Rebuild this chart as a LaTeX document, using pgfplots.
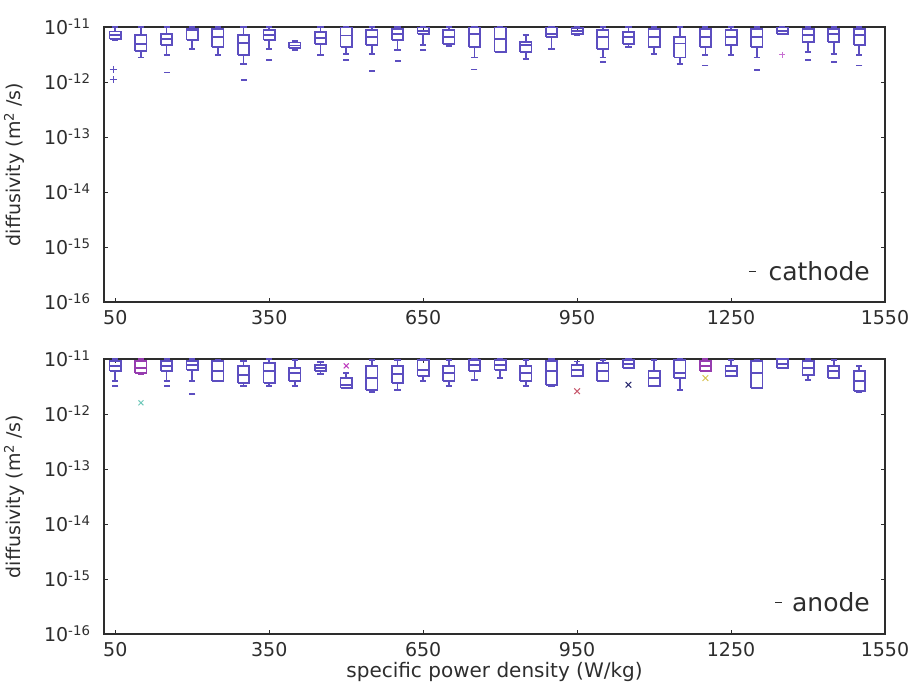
\documentclass[border=0pt]{standalone}
\usepackage{fontspec}
\setmainfont{DejaVu Sans}
\usepackage{pgfplots}
\pgfplotsset{compat=1.18}
\definecolor{boxcol}{RGB}{92,78,192}
\definecolor{boxmag}{RGB}{150,60,175}
\definecolor{axcol}{RGB}{45,45,45}
\definecolor{ocyan}{RGB}{110,200,185}
\definecolor{omag}{RGB}{190,60,190}
\definecolor{ored}{RGB}{200,90,110}
\definecolor{onavy}{RGB}{40,40,110}
\definecolor{oyel}{RGB}{215,195,80}
\definecolor{opink}{RGB}{200,110,210}
% #1 colour, #2 position, #3 lower whisker, #4 lower quartile, #5 median, #6 upper quartile, #7 upper whisker (units 1e-12)
\newcommand{\bx}[7][boxcol]{%
  \pgfmathsetmacro\bxL{#2-11}\pgfmathsetmacro\bxR{#2+11}%
  \pgfmathsetmacro\bcL{#2-6}\pgfmathsetmacro\bcR{#2+6}%
  \addplot[#1, line width=1.7pt, unbounded coords=jump, forget plot] coordinates {
    (\bxL,#4e-12) (\bxR,#4e-12) (\bxR,#6e-12) (\bxL,#6e-12) (\bxL,#4e-12) (\bxL,nan)
    (\bxL,#5e-12) (\bxR,#5e-12) (\bxR,nan)
    (#2,#6e-12) (#2,#7e-12) (#2,nan)
    (#2,#4e-12) (#2,#3e-12) (#2,nan)
    (\bcL,#3e-12) (\bcR,#3e-12) (\bcR,nan)
    (\bcL,#7e-12) (\bcR,#7e-12)};}
\begin{document}
\begin{tikzpicture}
\useasboundingbox (0,0) rectangle (914pt,684pt);
% ---------------- cathode ----------------
\begin{axis}[at={(104pt,382pt)}, anchor=south west,
  width=781pt, height=275pt, scale only axis,
  xmin=28, xmax=1550, ymode=log, ymin=1e-16, ymax=1e-11,
  xtick={50,350,650,950,1250,1550},
  ytick={1e-16,1e-15,1e-14,1e-13,1e-12,1e-11},
  yticklabels={10\textsuperscript{-16},10\textsuperscript{-15},10\textsuperscript{-14},10\textsuperscript{-13},10\textsuperscript{-12},10\textsuperscript{-11}},
  yminorticks=false,
  tick align=inside, major tick length=4pt,
  axis line style={axcol, line width=1.6pt},
  tick style={axcol, line width=0.8pt},
  tick label style={font=\fontsize{19}{22}\selectfont, text=axcol},
  xticklabel={\pgfmathprintnumber[1000 sep={}, assume math mode=true]{\tick}},
  xticklabel style={yshift=-5pt},
  yticklabel style={xshift=-10pt},
  ylabel={diffusivity (m\textsuperscript{2} /s)},
  ylabel style={at={(axis description cs:-0.1152,0.5)}, anchor=center, font=\fontsize{19}{22}\selectfont, text=axcol},
  legend style={draw=none, fill=none, at={(1,0)}, anchor=south east, xshift=-10pt, yshift=16pt, font=\fontsize{25}{29}\selectfont, text=axcol},
  legend image code/.code={\draw[axcol, line width=1.3pt] (0pt,0pt) -- (7pt,0pt);}]
\bx{50}{5.8}{6.0}{7.2}{8.3}{10}
\bx{100}{2.8}{3.7}{4.9}{7.1}{10}
\bx{150}{3.1}{4.7}{6.0}{7.5}{10}
\bx{200}{4.0}{5.8}{8.8}{9.2}{10}
\bx{250}{3.1}{4.3}{6.5}{9.2}{10}
\bx{300}{2.1}{3.1}{5.1}{7.1}{10}
\bx{350}{4.0}{5.8}{7.2}{8.8}{10}
\bx{400}{3.8}{4.1}{4.6}{5.2}{5.6}
\bx{450}{3.1}{4.9}{6.3}{8.1}{10}
\bx{500}{3.2}{4.3}{7.0}{9.8}{10}
\bx{550}{3.2}{4.7}{6.6}{8.8}{10}
\bx{600}{3.8}{5.8}{7.5}{9.2}{10}
\bx{650}{4.7}{7.5}{8.5}{9.8}{10}
\bx{700}{4.5}{4.9}{6.6}{8.8}{10}
\bx{750}{2.8}{4.3}{7.5}{9.8}{10}
\bx{800}{3.5}{3.5}{6.0}{9.8}{10}
\bx{850}{2.6}{3.5}{4.7}{5.3}{7.1}
\bx{900}{4.0}{6.6}{7.5}{9.8}{10}
\bx{950}{7.1}{7.5}{8.5}{9.6}{10}
\bx{1000}{2.8}{4.0}{6.6}{8.8}{10}
\bx{1050}{4.3}{4.9}{6.6}{8.1}{10}
\bx{1100}{3.2}{4.3}{6.6}{9.2}{10}
\bx{1150}{2.1}{2.8}{5.0}{6.6}{10}
\bx{1200}{3.1}{4.3}{6.6}{9.2}{10}
\bx{1250}{3.1}{4.7}{6.6}{8.8}{10}
\bx{1300}{2.8}{4.3}{6.6}{9.2}{10}
\bx{1350}{7.5}{7.5}{8.5}{9.8}{10}
\bx{1400}{3.5}{5.3}{7.1}{9.2}{10}
\bx{1450}{3.2}{5.3}{7.5}{9.2}{10}
\bx{1500}{3.1}{4.7}{7.1}{9.2}{10}
\addplot[only marks, boxcol, mark=-, mark size=3pt, line width=1.6pt, forget plot] coordinates {
  (150,1.5e-12) (300,1.1e-12) (350,2.5e-12) (500,2.5e-12) (550,1.6e-12) (600,2.4e-12)
  (650,3.8e-12) (750,1.7e-12) (1000,2.3e-12) (1200,2.0e-12) (1300,1.65e-12)
  (1400,2.5e-12) (1450,2.3e-12) (1500,2.0e-12)};
\addplot[only marks, boxcol, mark=+, mark size=3.5pt, line width=1pt, forget plot] coordinates {(46,1.7e-12) (46,1.1e-12)};
\addplot[only marks, opink, mark=+, mark size=3pt, line width=1pt, forget plot] coordinates {(1350,3.1e-12)};
\addlegendimage{axcol}
\addlegendentry{\hspace{10pt}cathode}
\end{axis}
% ---------------- anode ----------------
\begin{axis}[at={(104pt,50pt)}, anchor=south west,
  width=781pt, height=275pt, scale only axis,
  xmin=28, xmax=1550, ymode=log, ymin=1e-16, ymax=1e-11,
  xtick={50,350,650,950,1250,1550},
  ytick={1e-16,1e-15,1e-14,1e-13,1e-12,1e-11},
  yticklabels={10\textsuperscript{-16},10\textsuperscript{-15},10\textsuperscript{-14},10\textsuperscript{-13},10\textsuperscript{-12},10\textsuperscript{-11}},
  yminorticks=false,
  tick align=inside, major tick length=4pt,
  axis line style={axcol, line width=1.6pt},
  tick style={axcol, line width=0.8pt},
  tick label style={font=\fontsize{19}{22}\selectfont, text=axcol},
  xticklabel={\pgfmathprintnumber[1000 sep={}, assume math mode=true]{\tick}},
  xticklabel style={yshift=-5pt},
  yticklabel style={xshift=-10pt},
  ylabel={diffusivity (m\textsuperscript{2} /s)},
  ylabel style={at={(axis description cs:-0.1152,0.5)}, anchor=center, font=\fontsize{19}{22}\selectfont, text=axcol},
  xlabel={specific power density (W/kg)},
  xlabel style={at={(axis description cs:0.5,0)}, yshift=-38pt, anchor=center, font=\fontsize{20}{23}\selectfont, text=axcol},
  legend style={draw=none, fill=none, at={(1,0)}, anchor=south east, xshift=-10pt, yshift=17pt, font=\fontsize{25}{29}\selectfont, text=axcol},
  legend image code/.code={\draw[axcol, line width=1.3pt] (0pt,0pt) -- (7pt,0pt);}]
\bx{50}{4.0}{6.0}{7.5}{9.2}{10}
\bx[boxmag]{100}{5.3}{5.6}{6.9}{9.2}{10}
\bx{150}{4.0}{6.0}{7.5}{9.2}{10}
\bx{200}{4.0}{6.3}{7.8}{9.2}{10}
\bx{250}{4.0}{4.0}{6.0}{9.2}{9.6}
\bx{300}{3.2}{3.7}{5.1}{7.5}{9.2}
\bx{350}{3.2}{3.7}{6.0}{8.4}{10}
\bx{400}{3.2}{4.0}{5.6}{6.9}{9.6}
\bx{450}{5.3}{6.0}{6.9}{7.8}{8.8}
\bx{500}{3.0}{3.0}{3.4}{4.5}{5.6}
\bx{550}{2.5}{2.7}{4.5}{7.5}{9.5}
\bx{600}{2.7}{3.7}{5.3}{7.5}{9.6}
\bx{650}{4.0}{4.9}{6.3}{9.6}{10}
\bx{700}{3.2}{4.0}{5.6}{7.5}{9.6}
\bx{750}{4.2}{6.0}{7.8}{9.6}{10}
\bx{800}{4.5}{6.3}{7.8}{9.6}{10}
\bx{850}{3.2}{4.0}{5.6}{7.5}{9.6}
\bx{900}{3.2}{3.4}{6.0}{9.2}{10}
\bx{950}{4.9}{4.9}{6.3}{7.8}{9.0}
\bx{1000}{4.0}{4.0}{6.0}{8.4}{9.6}
\bx{1050}{6.9}{6.9}{8.0}{9.6}{10}
\bx{1100}{3.2}{3.2}{4.5}{6.0}{9.6}
\bx{1150}{2.7}{4.5}{5.6}{9.6}{10}
\bx[boxmag]{1200}{6.0}{6.0}{7.5}{9.2}{10}
\bx{1250}{4.9}{4.9}{6.0}{7.5}{9.6}
\bx{1300}{3.0}{3.0}{5.5}{9.2}{9.6}
\bx{1350}{6.9}{6.9}{8.0}{10}{10}
\bx{1400}{4.2}{5.1}{6.9}{9.2}{10}
\bx{1450}{4.5}{4.5}{6.0}{7.5}{9.6}
\bx{1500}{2.5}{2.6}{4.0}{6.0}{7.5}
\addplot[only marks, boxcol, mark=-, mark size=3pt, line width=1.6pt, forget plot] coordinates {
  (50,3.2e-12) (150,3.2e-12) (200,2.3e-12)};
\addplot[only marks, ocyan, mark=x, mark size=3.5pt, line width=1pt, forget plot] coordinates {(100,1.6e-12)};
\addplot[only marks, omag, mark=x, mark size=3.5pt, line width=1pt, forget plot] coordinates {(500,7.5e-12)};
\addplot[only marks, ored, mark=x, mark size=4pt, line width=1pt, forget plot] coordinates {(950,2.6e-12)};
\addplot[only marks, onavy, mark=x, mark size=4pt, line width=1pt, forget plot] coordinates {(1050,3.4e-12)};
\addplot[only marks, oyel, mark=x, mark size=4pt, line width=1pt, forget plot] coordinates {(1200,4.5e-12)};
\addlegendimage{axcol}
\addlegendentry{\hspace{7pt}anode}
\end{axis}
\end{tikzpicture}
\end{document}
